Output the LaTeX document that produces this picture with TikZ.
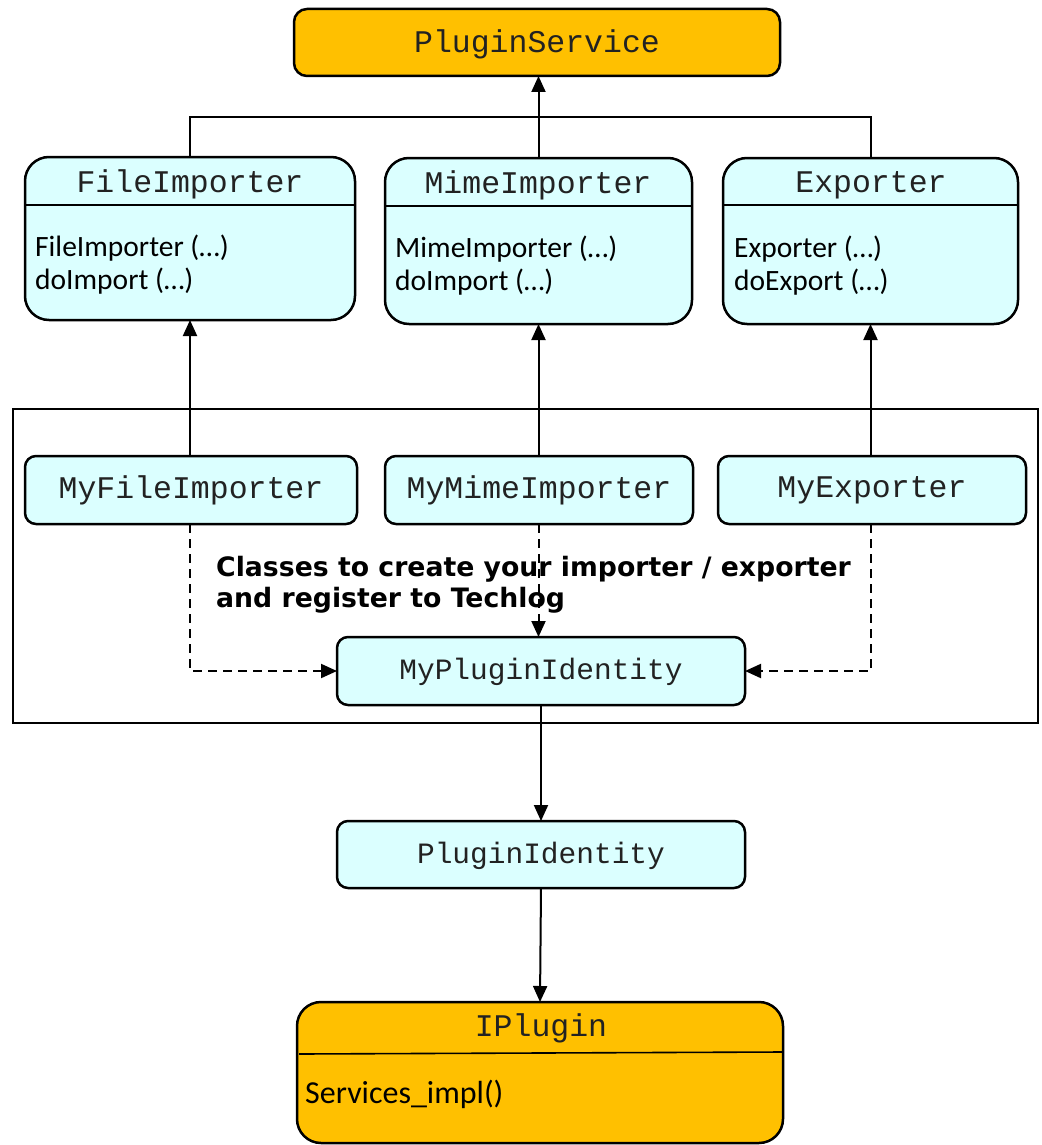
\documentclass[tikz,border=0pt]{standalone}
\usepackage{fontspec}
\setmainfont{Carlito}
\newfontfamily\monof{Liberation Mono}
\newfontfamily\labf{DejaVu Sans}
\usetikzlibrary{arrows.meta}
\definecolor{gold}{HTML}{FFC000}
\definecolor{lcyan}{HTML}{DBFFFF}
\definecolor{txt}{HTML}{222222}
\begin{document}
\begin{tikzpicture}[x=1pt,y=-1pt,
  box/.style={draw=black, line width=2.5pt, inner sep=0pt, outer sep=0pt, anchor=north west},
  goldbox/.style={box, fill=gold, rounded corners=13pt},
  clsbox/.style={box, fill=lcyan, rounded corners=24pt},
  smallbox/.style={box, fill=lcyan, rounded corners=11pt},
  mono/.style={font=\monof\fontsize{31.5}{36}\selectfont, text=txt, inner sep=0pt},
  body/.style={font=\fontsize{29.5}{33}\selectfont, align=left, inner sep=0pt, anchor=base west},
  divline/.style={line width=1.6pt},
  conn/.style={line width=2pt},
  arr/.style={conn, -{Triangle[length=16pt,width=14pt]}},
  dasharr/.style={arr, dash pattern=on 9pt off 6pt},
]
\useasboundingbox (0,0) rectangle (1041,1145);

% top service
\node[goldbox, minimum width=486pt, minimum height=67pt] (ps) at (294,9) {};
\node[mono] (pst) at (537,44) {PluginService};

% class boxes
\node[clsbox, minimum width=330pt, minimum height=163pt] (fi) at (25,157) {};
\draw[divline] (25,205) -- (355,205);
\node[mono] (fit) at (190,184) {FileImporter};
\node[body] (fib) at (35,289) {FileImporter (…)\\doImport (…)};

\node[clsbox, minimum width=307pt, minimum height=166pt] (mi) at (385,158) {};
\draw[divline] (385,206) -- (692,206);
\node[mono] (mit) at (538,185) {MimeImporter};
\node[body] (mib) at (395,290) {MimeImporter (…)\\doImport (…)};

\node[clsbox, minimum width=295pt, minimum height=166pt] (ex) at (723,158) {};
\draw[divline] (723,205) -- (1018,205);
\node[mono] (ext) at (871,185) {Exporter};
\node[body] (exb) at (734,290) {Exporter (…)\\doExport (…)};

% bus to PluginService
\draw[conn] (fi.north) -- (fi.north |- 0,117) -- (ex.north |- 0,117) -- (ex.north);
\draw[arr] (mi.north) -- (mi.north |- ps.south);

% frame
\node[draw=black, line width=2pt, minimum width=1025pt, minimum height=314pt, anchor=north west, inner sep=0pt, outer sep=0pt] (frame) at (13,409) {};

% my classes
\node[smallbox, minimum width=332pt, minimum height=68pt] (myfi) at (25,456) {};
\node[mono] (myfit) at (191,490) {MyFileImporter};
\node[smallbox, minimum width=308pt, minimum height=68pt] (mymi) at (385,456) {};
\node[mono] (mymit) at (539,490) {MyMimeImporter};
\node[smallbox, minimum width=308pt, minimum height=68pt] (myex) at (718,456) {};
\node[mono] (myext) at (872,490) {MyExporter};

\draw[arr] (myfi.north -| fi.south) -- (fi.south);
\draw[arr] (mymi.north -| mi.south) -- (mi.south);
\draw[arr] (myex.north -| ex.south) -- (ex.south);

% plugin identity
\node[smallbox, minimum width=408pt, minimum height=68pt] (mpi) at (337,637) {};
\node[mono, font=\monof\fontsize{29.5}{34}\selectfont] (mpit) at (541,672) {MyPluginIdentity};

\draw[dasharr] (myfi.south -| fi.south) |- (mpi.west);
\draw[dasharr] (mymi.south -| mi.south) -- (mi.south |- mpi.north);
\draw[dasharr] (myex.south -| ex.south) |- (mpi.east);

\node[font=\labf\bfseries\fontsize{26.7}{31}\selectfont, align=left, anchor=base west, inner sep=0pt] (lab) at (216,607) {Classes to create your importer / exporter\\and register to Techlog};

\node[smallbox, minimum width=408pt, minimum height=67pt] (pi) at (337,821) {};
\node[mono, font=\monof\fontsize{29.5}{34}\selectfont] (pit) at (541,856) {PluginIdentity};

\draw[arr] (mpi.south) -- (pi.north);

% IPlugin
\node[goldbox, rounded corners=24pt, minimum width=486pt, minimum height=141pt] (ip) at (297,1002) {};
\draw[divline] (299,1054) -- (782,1052);
\node[mono] (ipt) at (541,1028) {IPlugin};
\node[body, font=\fontsize{32}{36}\selectfont] (ipb) at (305,1103) {Services\_impl()};

\draw[arr] (pi.south) -- (ip.north);
\end{tikzpicture}
\end{document}
